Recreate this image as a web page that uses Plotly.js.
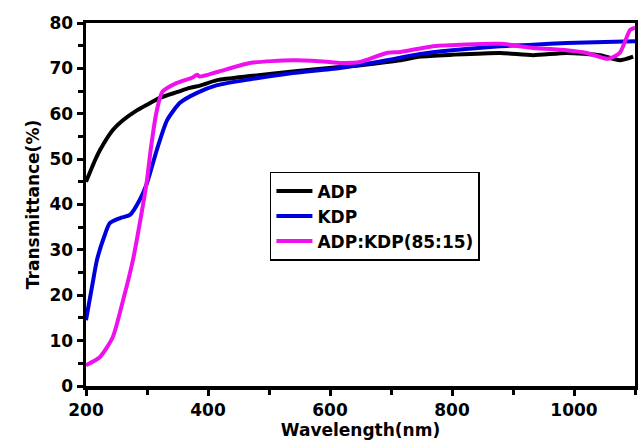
<!DOCTYPE html>
<html>
<head>
<meta charset="utf-8">
<script src="https://cdn.plot.ly/plotly-3.0.1.min.js"></script>
<style>html,body{margin:0;padding:0;background:#fff;}#chart{width:638px;height:444px;}</style>
</head>
<body>
<div id="chart"></div>
<script>
// ADP
const adpX = [200, 215, 223, 244, 260, 284, 300, 321, 350, 370, 387, 415, 469, 539, 616, 650, 693, 715, 748, 800, 879, 933, 988, 1043, 1075, 1097];
const adpY = [45, 49.8, 52, 56.4, 58.5, 60.8, 62, 63.5, 64.8, 65.7, 66.2, 67.4, 68.3, 69.3, 70.3, 70.7, 71.4, 71.8, 72.6, 73.0, 73.4, 72.9, 73.4, 72.9, 71.8, 72.6];
// KDP
const kdpX = [200, 210, 218, 230, 239, 256, 272, 288, 300, 316, 333, 354, 382, 415, 469, 539, 616, 693, 748, 800, 879, 933, 988, 1050, 1100];
const kdpY = [14.5, 22, 27.8, 33, 35.9, 37.0, 37.7, 41, 44.7, 52, 58.6, 62.4, 64.6, 66.3, 67.6, 69, 70.1, 71.8, 73.2, 74, 74.9, 75.2, 75.6, 75.8, 76];
// ADP:KDP(85:15)
const mixX = [200, 223, 244, 261, 277, 292, 300, 306, 315, 325, 349, 375, 382, 386, 415, 469, 539, 570, 616, 649, 693, 715, 769, 879, 933, 988, 1021, 1056, 1075, 1092, 1100];
const mixY = [4.6, 6.4, 10.8, 19, 27.8, 38.8, 45.4, 52, 60, 64.8, 66.8, 68, 68.6, 68.2, 69.2, 71.2, 71.8, 71.7, 71.2, 71.4, 73.4, 73.6, 74.9, 75.4, 74.5, 74.0, 73.4, 72.1, 73.4, 78.5, 79];

const names = ['ADP', 'KDP', 'ADP:KDP(85:15)'];
const colors = ['#000000', '#0000dd', '#ee11ee'];
const xs = [adpX, kdpX, mixX];
const ys = [adpY, kdpY, mixY];

const FONT = 'DejaVu Sans, Arial, sans-serif';
const traces = names.map((n, i) => ({
  x: xs[i], y: ys[i], name: n, type: 'scatter', mode: 'lines',
  line: {color: colors[i], width: 4, shape: 'spline', smoothing: 0.6}
}));

const axisCommon = {
  showline: true, linecolor: '#000', linewidth: 3.5, mirror: true,
  showgrid: false, zeroline: false,
  ticks: 'outside', ticklen: 6, tickwidth: 3, tickcolor: '#000',
  tickfont: {family: FONT, size: 17, color: '#000', weight: 'bold'}
};

const layout = {
  width: 638, height: 444,
  margin: {l: 86, r: 3, t: 23, b: 58},
  paper_bgcolor: '#fff', plot_bgcolor: '#fff',
  showlegend: true,
  legend: {
    x: 0.335, y: 0.59, xanchor: 'left', yanchor: 'top',
    bgcolor: '#fff', bordercolor: '#000', borderwidth: 1.5,
    font: {family: FONT, size: 17, color: '#000', weight: 'bold'},
    itemwidth: 36,
    tracegroupgap: 0
  },
  xaxis: Object.assign({}, axisCommon, {
    range: [200, 1100], tickvals: [200, 400, 600, 800, 1000],
    minor: {ticks: 'outside', ticklen: 5, tickwidth: 3, tickcolor: '#000', tickvals: [300, 500, 700, 900, 1100]},
    title: {text: 'Wavelength(nm)', font: {family: FONT, size: 17, color: '#000', weight: 'bold'}, standoff: 6}
  }),
  yaxis: Object.assign({}, axisCommon, {
    range: [0, 80], tickvals: [0, 10, 20, 30, 40, 50, 60, 70, 80],
    minor: {ticks: 'outside', ticklen: 5, tickwidth: 3, tickcolor: '#000', tickvals: [5, 15, 25, 35, 45, 55, 65, 75]},
    title: {text: 'Transmittance(%)', font: {family: FONT, size: 17, color: '#000', weight: 'bold'}, standoff: 6}
  })
};

Plotly.newPlot('chart', traces, layout, {displayModeBar: false, staticPlot: true});
</script>
</body>
</html>
